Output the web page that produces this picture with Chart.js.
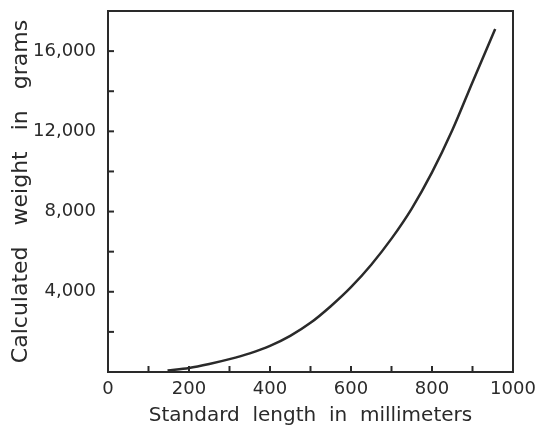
<!DOCTYPE html>
<html>
<head>
<meta charset="utf-8">
<script src="https://cdn.jsdelivr.net/npm/chart.js@4"></script>
<style>
  html, body { margin: 0; padding: 0; background: #fff; }
  #wrap { width: 541px; height: 428px; }
</style>
</head>
<body>
<div id="wrap"><canvas id="chart"></canvas></div>
<script>
// values
const lengths = [147, 200, 250, 300, 350, 400, 450, 500, 550, 600, 650, 700, 750, 800, 850, 900, 956];
const weights = [70, 200, 400, 640, 930, 1300, 1800, 2450, 3280, 4230, 5350, 6650, 8150, 9950, 12050, 14450, 17100];

const xTicks = [0, 200, 400, 600, 800, 1000];
const yTicks = [4000, 8000, 12000, 16000];
const xMinor = [100, 200, 300, 400, 500, 600, 700, 800, 900];
const yMinor = [2000, 4000, 6000, 8000, 10000, 12000, 14000, 16000];

const ink = "#2a2a2a";
const font = "'DejaVu Sans', sans-serif";

// frame and inward ticks
const framePlugin = {
  id: "frame",
  afterDraw(chart) {
    const { ctx, chartArea: a, scales } = chart;
    ctx.save();
    ctx.strokeStyle = ink;
    ctx.lineWidth = 2;
    ctx.strokeRect(a.left, a.top, a.right - a.left, a.bottom - a.top);
    xMinor.forEach(v => {
      const x = scales.x.getPixelForValue(v);
      ctx.beginPath();
      ctx.moveTo(x, a.bottom);
      ctx.lineTo(x, a.bottom - 6);
      ctx.stroke();
    });
    yMinor.forEach(v => {
      const y = scales.y.getPixelForValue(v);
      ctx.beginPath();
      ctx.moveTo(a.left, y);
      ctx.lineTo(a.left + 6, y);
      ctx.stroke();
    });
    ctx.restore();
  }
};

new Chart(document.getElementById("chart"), {
  type: "line",
  data: {
    datasets: [{
      data: lengths.map((l, i) => ({ x: l, y: weights[i] })),
      borderColor: ink,
      borderWidth: 2.5,
      pointRadius: 0,
      cubicInterpolationMode: "monotone",
      fill: false
    }]
  },
  options: {
    responsive: true,
    maintainAspectRatio: false,
    animation: false,
    layout: { padding: { left: 0, right: 28, top: 11, bottom: 0 } },
    plugins: { legend: { display: false }, tooltip: { enabled: false } },
    scales: {
      x: {
        type: "linear",
        min: 0,
        max: 1000,
        afterBuildTicks: s => { s.ticks = xTicks.map(v => ({ value: v })); },
        grid: { display: false, drawTicks: false },
        border: { display: false },
        ticks: { color: ink, font: { family: font, size: 18 }, padding: 7, maxRotation: 0, callback: v => String(v) },
        title: {
          display: true,
          text: "Standard  length  in  millimeters",
          color: ink,
          font: { family: font, size: 20 },
          padding: { top: 2, bottom: 0 }
        },
        afterFit: s => { s.height = 56; s.paddingLeft = 0; s.paddingRight = 0; }
      },
      y: {
        min: 0,
        max: 18000,
        afterBuildTicks: s => { s.ticks = yTicks.map(v => ({ value: v })); },
        grid: { display: false, drawTicks: false },
        border: { display: false },
        ticks: {
          color: ink,
          font: { family: font, size: 18 },
          padding: 12,
          callback: v => v.toLocaleString("en-US")
        },
        title: {
          display: true,
          text: "Calculated   weight   in   grams",
          color: ink,
          font: { family: font, size: 22 },
          padding: { top: 8, bottom: 0 }
        },
        afterFit: s => { s.width = 108; s.paddingTop = 0; s.paddingBottom = 0; }
      }
    }
  },
  plugins: [framePlugin]
});
</script>
</body>
</html>
